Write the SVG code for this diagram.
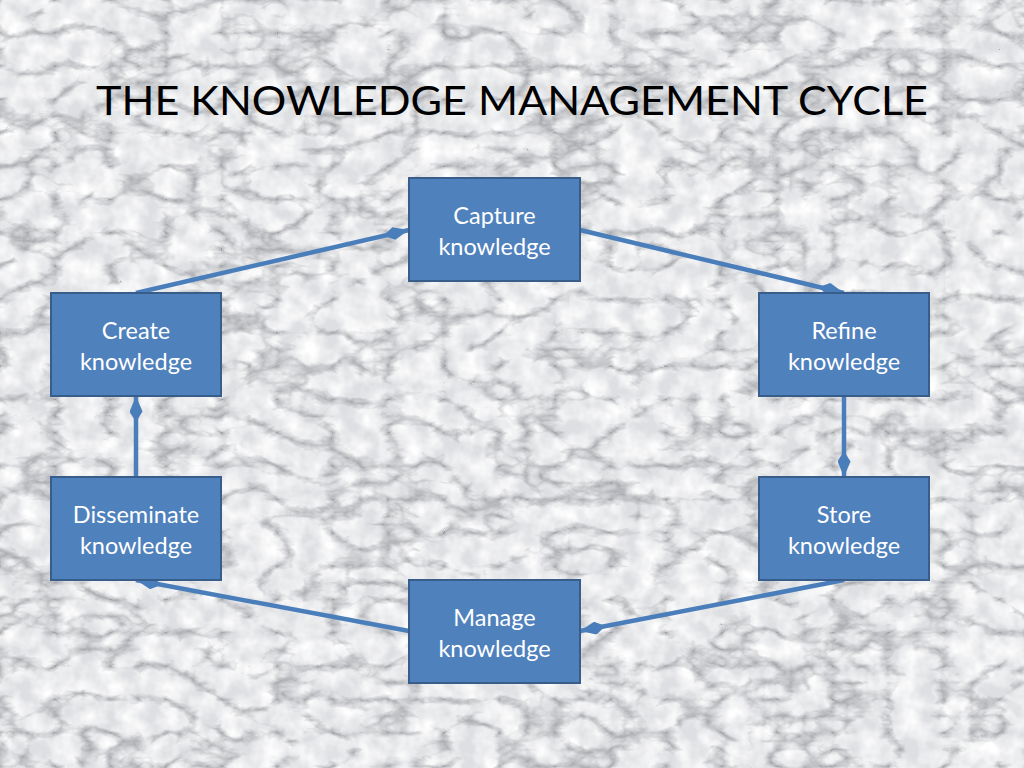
<svg xmlns="http://www.w3.org/2000/svg" width="1024" height="768" viewBox="0 0 1024 768">
<defs>
<filter id="marble" x="0" y="0" width="100%" height="100%">
<feTurbulence type="turbulence" baseFrequency="0.018 0.03" numOctaves="4" seed="11" result="n"/>
<feColorMatrix in="n" type="matrix" values="0 0 0 0 0  0 0 0 0 0  0 0 0 0 0  -3.2 0 0 0 1.0" result="a"/>
<feFlood flood-color="#a2a4a9" result="g"/>
<feComposite in="g" in2="a" operator="in" result="veins"/>
<feTurbulence type="fractalNoise" baseFrequency="0.05" numOctaves="3" seed="3" result="n2"/>
<feColorMatrix in="n2" type="matrix" values="0 0 0 0 1  0 0 0 0 1  0 0 0 0 1  1.8 0 0 0 -0.5" result="w"/>
<feFlood flood-color="#dedfe2" result="bg"/>
<feMerge><feMergeNode in="bg"/><feMergeNode in="w"/><feMergeNode in="veins"/></feMerge>
</filter>
<marker id="dia" viewBox="0 0 20 10" refX="20" refY="5" markerWidth="26" markerHeight="13" markerUnits="userSpaceOnUse" orient="auto">
<path d="M0,5 L8,0 L20,5 L8,10 Z" fill="#4a7ebb"/>
</marker>
<style>
.box{fill:#4f81bd;stroke:#385d8a;stroke-width:2}
.lbl{font-family:Lato,"Open Sans","Liberation Sans",sans-serif;font-size:23.5px;fill:#ffffff;text-anchor:middle}
.con{stroke:#4a7ebb;stroke-width:4.5;fill:none;marker-end:url(#dia)}
</style>
</defs>
<rect x="0" y="0" width="1024" height="768" filter="url(#marble)"/>
<text x="512" y="115" font-family="Lato,'Open Sans','Liberation Sans',sans-serif" font-size="40" fill="#000" text-anchor="middle" textLength="832" lengthAdjust="spacingAndGlyphs">THE KNOWLEDGE MANAGEMENT CYCLE</text>
<g id="connectors">
<line class="con" x1="136" y1="293" x2="409" y2="230"/>
<line class="con" x1="580" y1="230" x2="844" y2="293"/>
<line class="con" x1="844" y1="396" x2="844" y2="477"/>
<line class="con" x1="844" y1="580" x2="580" y2="631"/>
<line class="con" x1="409" y1="631" x2="136" y2="580"/>
<line class="con" x1="136" y1="477" x2="136" y2="396"/>
</g>
<g id="capture"><rect class="box" x="409" y="178" width="171" height="103"/><text class="lbl" x="494.5" y="224">Capture</text><text class="lbl" x="494.5" y="255">knowledge</text></g>
<g id="refine"><rect class="box" x="759" y="293" width="170" height="103"/><text class="lbl" x="844" y="339">Refine</text><text class="lbl" x="844" y="370">knowledge</text></g>
<g id="store"><rect class="box" x="759" y="477" width="170" height="103"/><text class="lbl" x="844" y="523">Store</text><text class="lbl" x="844" y="554">knowledge</text></g>
<g id="manage"><rect class="box" x="409" y="580" width="171" height="103"/><text class="lbl" x="494.5" y="626">Manage</text><text class="lbl" x="494.5" y="657">knowledge</text></g>
<g id="disseminate"><rect class="box" x="51" y="477" width="170" height="103"/><text class="lbl" x="136" y="523">Disseminate</text><text class="lbl" x="136" y="554">knowledge</text></g>
<g id="create"><rect class="box" x="51" y="293" width="170" height="103"/><text class="lbl" x="136" y="339">Create</text><text class="lbl" x="136" y="370">knowledge</text></g>
</svg>
